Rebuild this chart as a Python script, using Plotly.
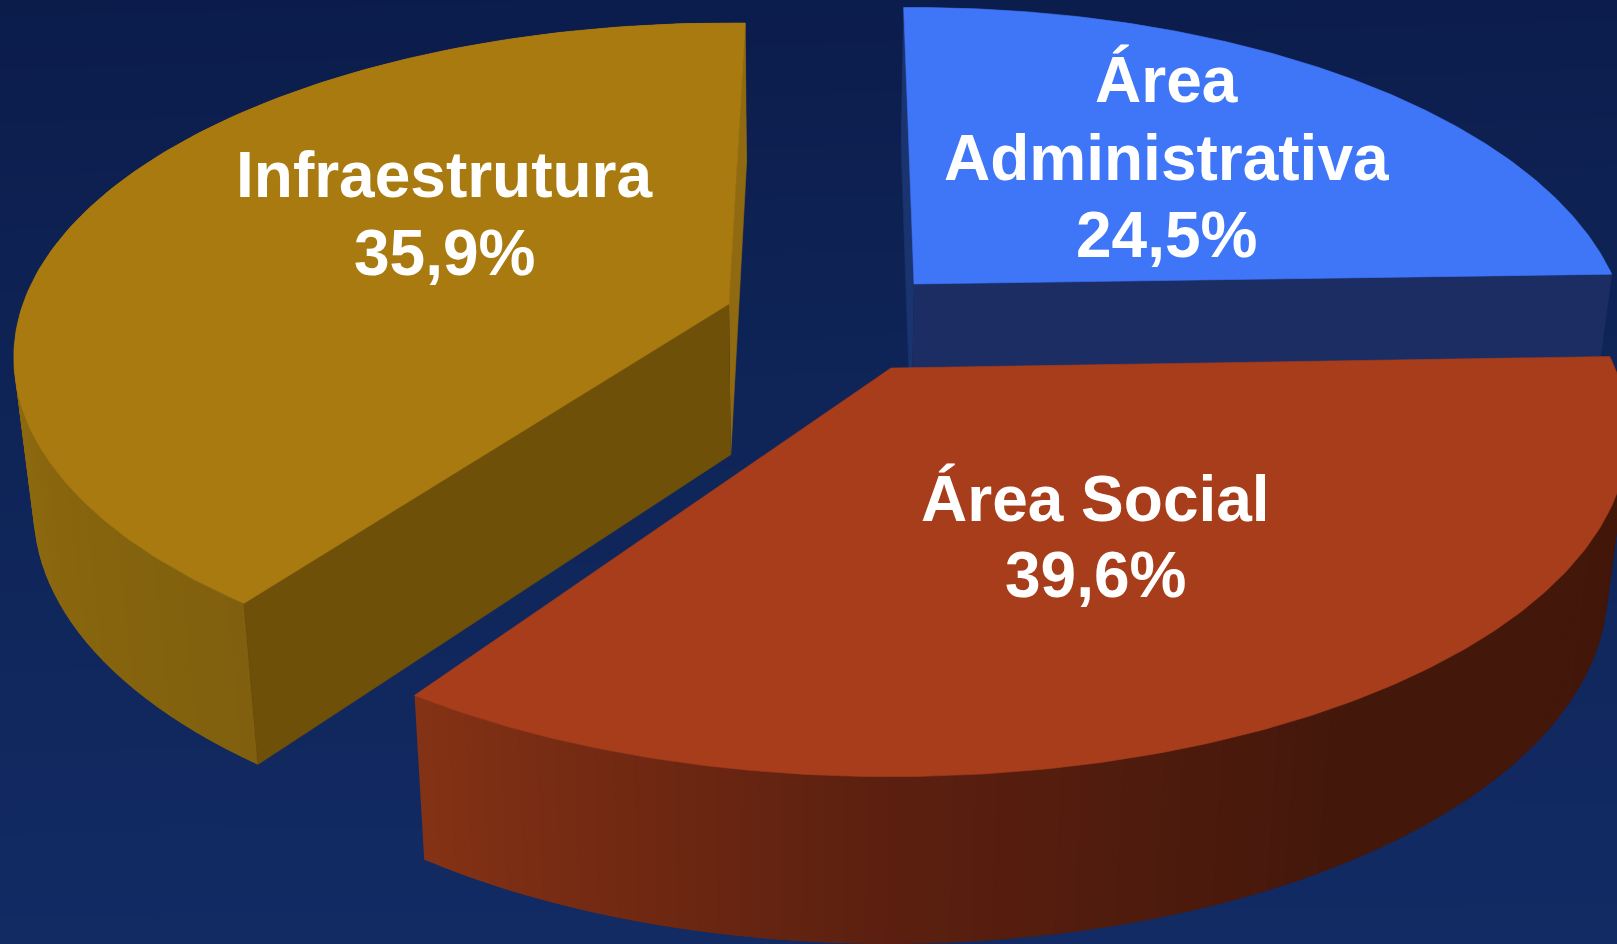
import numpy as np
import plotly.graph_objects as go

# Label text as printed in the picture, one list entry per line
blue_lines = ["Área", "Administrativa", "24,5%"]
red_lines = ["Área Social", "39,6%"]
gold_lines = ["Infraestrutura", "35,9%"]

# Sector shares as drawn (percent of the full circle)
share_blue = 24.8
share_red = 34.9
share_gold = 40.2

W, H = 1617, 944
FONT_SIZE = 64

# Per-slice perspective of the pie disc: apex pixel, horizontal radius, depth radius, foreshortening
GEOM = {
    "blue": dict(apex=(914, 284), A=702.0, B=329.0, K=0.19, start=91.0, share=share_blue),
    "red": dict(apex=(891, 368), A=724.0, B=331.0, K=0.19, start=2.0, share=share_red),
    "gold": dict(apex=(729, 304), A=706.0, B=326.0, K=0.16, start=-126.8, share=share_gold),
}

TOP = {"blue": "#3f76f8", "red": "#a83d1b", "gold": "#a87a10"}
FRONT_CUT = {"blue": "#1b2d63", "gold": "#6e5008"}
BACK_CUT = {"blue": "#1a3470", "gold": "#8f6a10"}
WALL_STOPS = {
    "red": [(-128, "#8b3516"), (-90, "#5c2010"), (-60, "#45180c"), (2, "#43160a")],
    "gold": [(-275, "#967010"), (-190, "#967010"), (-125, "#80600e")],
    "blue": [(0, "#1b2d63"), (95, "#1b2d63")],
}


def project(theta_deg, g):
    t = np.radians(theta_deg)
    u, v = np.cos(t), np.sin(t)
    w = 1 + g["K"] * v
    return g["apex"][0] + g["A"] * u / w, g["apex"][1] - g["B"] * v / w


def drop(x, y):
    x, y = np.asarray(x, float), np.asarray(y, float)
    return x + (800 - x) * 0.025, y + 140 + 0.035 * y


def hex_rgb(c):
    return np.array([int(c[i:i + 2], 16) for i in (1, 3, 5)], float)


def wall_colour(name, theta):
    stops = WALL_STOPS[name]
    xs = [s[0] for s in stops]
    rgb = np.array([hex_rgb(s[1]) for s in stops])
    c = [np.interp(theta, xs, rgb[:, i]) for i in range(3)]
    return "rgb(%d,%d,%d)" % tuple(c)


def poly(x, y, colour, width=0.6, name=None):
    return go.Scatter(x=list(x), y=list(y), mode="lines", fill="toself", fillcolor=colour,
                      line=dict(color=colour, width=width), hoverinfo="skip",
                      showlegend=False, name=name)


fig = go.Figure()

# Background gradient
fig.add_trace(go.Heatmap(
    x=[-10, W + 10], y=[-10, 0.5 * H, H + 10],
    z=[[0, 0.05], [0.5, 0.6], [1, 1]],
    zmin=0, zmax=1, zsmooth="best", showscale=False, hoverinfo="skip",
    colorscale=[[0, "#0b1c4b"], [0.5, "#0f2558"], [1, "#122b64"]],
))


def draw_slice(name):
    g = GEOM[name]
    apex = g["apex"]
    span = g["share"] * 3.6
    thetas = np.linspace(g["start"] - span, g["start"], 181)
    ax, ay = project(thetas, g)
    bx, by = drop(ax, ay)
    apx, apy = drop(apex[0], apex[1])

    # Outer wall: overlapping strips, drawn in order so that no seam shows
    for i in range(0, len(thetas) - 1, 2):
        j = min(i + 4, len(thetas) - 1)
        mid = thetas[i] + (thetas[1] - thetas[0])
        fig.add_trace(poly([ax[i], ax[j], bx[j], bx[i]], [ay[i], ay[j], by[j], by[i]],
                           wall_colour(name, mid), width=0))

    # Straight cut faces
    if name in FRONT_CUT:
        front, back = (-1, 0) if name == "gold" else (0, -1)
        fig.add_trace(poly([apex[0], ax[back], bx[back], apx],
                           [apex[1], ay[back], by[back], apy], BACK_CUT[name]))
        fig.add_trace(poly([apex[0], ax[front], bx[front], apx],
                           [apex[1], ay[front], by[front], apy], FRONT_CUT[name]))

    # Top face
    fig.add_trace(poly([apex[0], *ax, apex[0]], [apex[1], *ay, apex[1]], TOP[name], name=name))


for slice_name in ("gold", "blue", "red"):
    draw_slice(slice_name)

for lines, x, ys in ((gold_lines, 444, (175, 253)),
                     (blue_lines, 1166, (80, 158, 235)),
                     (red_lines, 1095, (499, 575))):
    for text, y in zip(lines, ys):
        fig.add_annotation(x=x, y=y, text=text, showarrow=False, align="center",
                           font=dict(family="Liberation Sans", size=FONT_SIZE, color="white",
                                     weight="bold"))

fig.update_xaxes(range=[0, W], visible=False, showgrid=False, zeroline=False)
fig.update_yaxes(range=[H, 0], visible=False, showgrid=False, zeroline=False)
fig.update_layout(width=W, height=H, margin=dict(l=0, r=0, t=0, b=0),
                  paper_bgcolor="#0f2558", plot_bgcolor="#0f2558", showlegend=False,
                  hovermode=False)
fig.write_html("out.html", config=dict(displayModeBar=False),
               post_script="document.body.style.margin='0';document.body.style.overflow='hidden';"
                           "document.documentElement.style.background='#0f2558';")
